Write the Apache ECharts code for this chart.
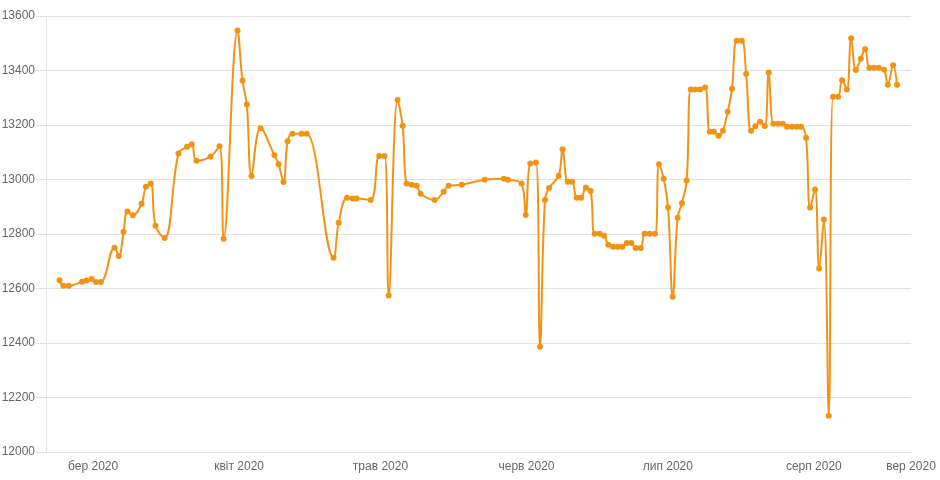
<!DOCTYPE html>
<html>
<head>
<meta charset="utf-8">
<script src="https://cdn.jsdelivr.net/npm/echarts@6/dist/echarts.min.js"></script>
<style>
html,body{margin:0;padding:0;background:#fff;}
#chart{width:940px;height:480px;}
</style>
</head>
<body>
<div id="chart"></div>
<script>
const dates = [
'2020-02-22 21:00','2020-02-23 17:00','2020-02-24 20:00','2020-02-27 16:00','2020-02-28 14:00','2020-02-29 16:00','2020-03-01 14:00','2020-03-02 15:00',
'2020-03-05 13:00','2020-03-06 11:00','2020-03-07 11:00','2020-03-08 07:00','2020-03-09 10:00','2020-03-11 07:00','2020-03-12 05:00','2020-03-13 06:00','2020-03-14 06:00','2020-03-16 04:00',
'2020-03-19 03:00','2020-03-20 23:00','2020-03-21 23:00','2020-03-22 23:00','2020-03-25 22:00','2020-03-27 20:00','2020-03-28 17:00','2020-03-31 16:00',
'2020-04-01 17:00','2020-04-02 15:00','2020-04-03 15:00','2020-04-05 13:00','2020-04-08 12:00','2020-04-09 09:00','2020-04-10 10:00','2020-04-11 07:00','2020-04-12 08:00','2020-04-14 06:00','2020-04-15 08:00',
'2020-04-21 01:00','2020-04-22 03:00','2020-04-23 22:00','2020-04-25 02:00','2020-04-25 22:00','2020-04-28 22:00','2020-04-30 18:00',
'2020-05-01 21:00','2020-05-02 18:00','2020-05-04 15:00','2020-05-05 17:00','2020-05-06 13:00','2020-05-07 15:00','2020-05-08 16:00','2020-05-09 13:00','2020-05-12 12:00','2020-05-14 10:00','2020-05-15 11:00','2020-05-18 06:00','2020-05-23 03:00','2020-05-27 05:00','2020-05-28 02:00','2020-05-30 23:00','2020-05-31 20:00',
'2020-06-01 19:00','2020-06-03 00:00','2020-06-03 21:00','2020-06-04 22:00','2020-06-05 19:00','2020-06-07 20:00','2020-06-08 16:00','2020-06-09 18:00','2020-06-10 16:00','2020-06-11 16:00','2020-06-12 14:00','2020-06-13 15:00','2020-06-14 15:00','2020-06-15 11:00','2020-06-16 13:00','2020-06-17 11:00','2020-06-18 09:00','2020-06-19 09:00','2020-06-20 09:00','2020-06-21 08:00','2020-06-22 07:00','2020-06-23 06:00','2020-06-24 04:00','2020-06-25 06:00','2020-06-26 02:00','2020-06-27 04:00','2020-06-28 07:00','2020-06-29 03:00','2020-06-30 03:00',
'2020-07-01 01:00','2020-07-02 01:00','2020-07-03 02:00','2020-07-04 00:00','2020-07-05 00:00','2020-07-05 21:00','2020-07-06 20:00','2020-07-07 20:00','2020-07-08 22:00','2020-07-09 22:00','2020-07-10 19:00','2020-07-11 19:00','2020-07-12 17:00','2020-07-13 17:00','2020-07-14 15:00','2020-07-15 15:00','2020-07-16 17:00','2020-07-17 15:00','2020-07-18 16:00','2020-07-19 14:00','2020-07-20 14:00','2020-07-21 14:00','2020-07-22 10:00','2020-07-23 10:00','2020-07-24 10:00','2020-07-25 10:00','2020-07-26 08:00','2020-07-27 09:00','2020-07-28 09:00','2020-07-29 07:00','2020-07-30 08:00','2020-07-31 05:00',
'2020-08-01 06:00','2020-08-02 03:00','2020-08-03 03:00','2020-08-04 04:00','2020-08-05 02:00','2020-08-06 03:00','2020-08-07 00:00','2020-08-08 00:00','2020-08-08 22:00','2020-08-09 22:00','2020-08-10 23:00','2020-08-11 21:00','2020-08-12 19:00','2020-08-13 19:00','2020-08-14 19:00','2020-08-15 22:00','2020-08-16 17:00','2020-08-17 20:00','2020-08-18 16:00'
];

const rates = [
12630,12610,12610,12625,12629,12635,12624,12624,
12750,12719,12808,12883,12869,12911,12973,12985,12830,12785,
13095,13120,13129,13069,13084,13122,12783,13547,
13363,13275,13013,13188,13089,13056,12991,13140,13168,13168,13168,
12713,12841,12933,12930,12930,12925,13086,
13086,12574,13292,13197,12985,12981,12977,12948,12925,12955,12977,12981,12999,13003,12999,12985,12870,
13059,13062,12386,12925,12969,13014,13111,12992,12992,12933,12933,12971,12958,12801,12801,12794,12761,12753,12753,12753,12767,12767,12749,12749,12801,12801,12801,13056,13003,
12897,12570,12860,12913,12996,13330,13330,13330,13338,13175,13175,13161,13179,13249,13333,13509,13509,13388,13179,13195,13212,13196,13393,13205,13205,13205,13194,13194,13194,13194,13153,12897,
12963,12673,12853,12133,13304,13304,13364,13330,13518,13402,13443,13478,13410,13410,13410,13403,13348,13419,13348
];

const monthNames = ['січ','лют','бер','квіт','трав','черв','лип','серп','вер','жовт','лист','груд'];
const xMin = '2020-02-20 00:00';
const xMax = '2020-08-21 15:00';
const yMin = 12000, yMax = 13600, yStep = 200;

function parseLocal(s){
  const [d,t] = s.split(' ');
  const [Y,M,D] = d.split('-').map(Number);
  const [h,m] = (t||'00:00').split(':').map(Number);
  return new Date(Y, M-1, D, h, m).getTime();
}
const xMinTs = parseLocal(xMin), xMaxTs = parseLocal(xMax);

const seriesData = dates.map((d,i)=>[parseLocal(d), rates[i]]);

function monthLabel(ts){
  const dt = new Date(ts);
  let m = dt.getMonth(), y = dt.getFullYear();
  if (dt.getDate() !== 1 || dt.getHours() !== 0) { m += 1; if (m > 11) { m = 0; y += 1; } }
  return monthNames[m] + ' ' + y;
}

const chart = echarts.init(document.getElementById('chart'), null, {renderer:'canvas'});
const axisGray = '#e2e2e2';
const textGray = '#666666';
chart.setOption({
  animation: false,
  backgroundColor: '#ffffff',
  grid: {left: 46, right: 29, top: 16, bottom: 28, containLabel: false, outerBoundsMode: 'none'},
  xAxis: {
    type: 'time',
    min: xMinTs,
    max: xMaxTs,
    minInterval: 28*24*3600*1000,
    maxInterval: 31*24*3600*1000,
    axisLine: {show: true, lineStyle: {color: axisGray, width: 1}},
    axisTick: {show: false},
    splitLine: {show: false},
    axisLabel: {
      show: true,
      color: textGray,
      fontFamily: 'Liberation Sans, Arial, sans-serif',
      fontSize: 12,
      margin: 9,
      showMinLabel: false,
      showMaxLabel: true,
      hideOverlap: false,
      formatter: function(value){ return monthLabel(value); }
    }
  },
  yAxis: {
    type: 'value',
    min: yMin,
    max: yMax,
    interval: yStep,
    axisLine: {show: true, lineStyle: {color: axisGray, width: 1}},
    axisTick: {show: true, length: 10, lineStyle: {color: axisGray, width: 1}},
    splitLine: {show: true, lineStyle: {color: axisGray, width: 1}},
    axisLabel: {
      color: textGray,
      fontFamily: 'Liberation Sans, Arial, sans-serif',
      fontSize: 12,
      margin: 11,
      formatter: function(v){ return String(v); }
    }
  },
  series: [{
    type: 'line',
    data: seriesData,
    smooth: 0.4,
    symbol: 'circle',
    symbolSize: 6,
    showAllSymbol: true,
    lineStyle: {color: '#f39313', width: 2},
    itemStyle: {color: '#f39313', borderWidth: 0},
    z: 3
  }]
});
</script>
</body>
</html>
